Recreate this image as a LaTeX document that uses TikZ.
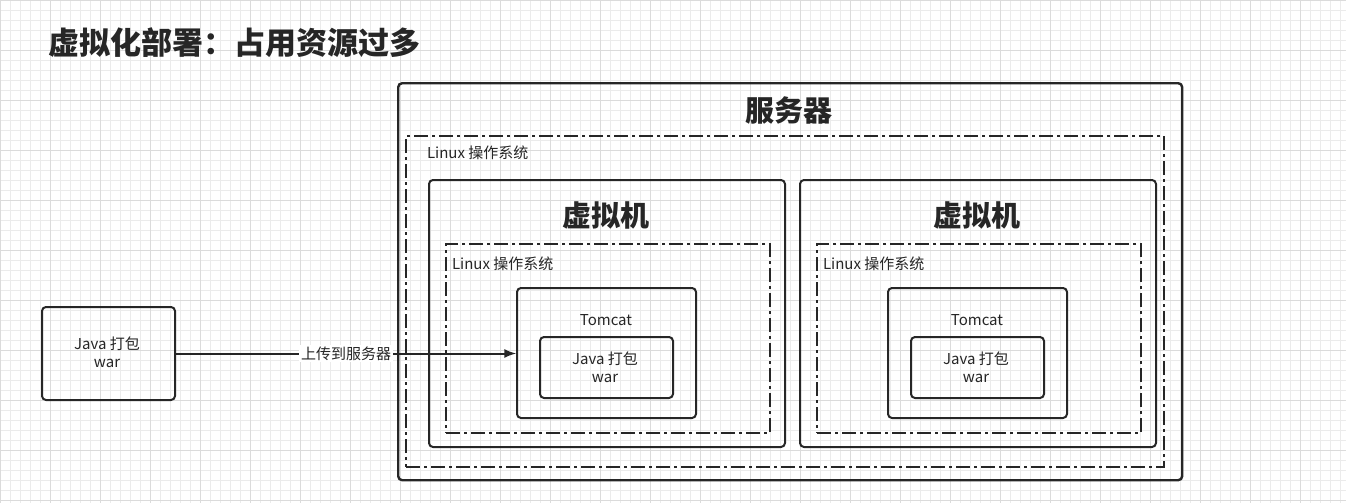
\documentclass[tikz,border=0pt]{standalone}
\usepackage{fontspec}
\setmainfont{Noto Sans CJK SC}
\begin{document}
\begin{tikzpicture}[x=0.5pt,y=-0.5pt,
  box/.style={draw=black!85,line width=1pt,rounded corners=2pt},
  dd/.style={draw=black!85,line width=1pt,dash pattern=on 7pt off 2pt on 1.5pt off 2pt},
  small/.style={font=\fontsize{7.5pt}{9pt}\selectfont,text=black!85},
  big/.style={font=\fontsize{14.5pt}{16pt}\selectfont\bfseries,text=black!85}]
\useasboundingbox (0,0) rectangle (1346,503);
\fill[white] (0,0) rectangle (1346,503);
\foreach \x in {0,10,...,1340}{\draw[black!8,line width=0.4pt] (\x,0) -- (\x,503);}
\foreach \y in {0,10,...,500}{\draw[black!8,line width=0.4pt] (0,\y) -- (1346,\y);}
\foreach \x in {0,50,...,1340}{\draw[black!14,line width=0.4pt] (\x,0) -- (\x,503);}
\foreach \y in {0,50,...,500}{\draw[black!14,line width=0.4pt] (0,\y) -- (1346,\y);}
\node[anchor=west,font=\fontsize{15.5pt}{17pt}\selectfont\bfseries,text=black!85] (title) at (41,43) {虚拟化部署：占用资源过多};
\node[box,minimum width=392pt,minimum height=198.5pt,anchor=north west,line width=1.2pt] (srv) at (397,82) {};
\node[big] (srvl) at (789,110) {服务器};
\node[dd,minimum width=379pt,minimum height=165.5pt,anchor=north west] (os) at (405,135) {};
\node[small,anchor=west] (osl) at (420,153) {Linux 操作系统};
\foreach \i/\dx in {1/0,2/371}{
  \node[box,minimum width=178pt,minimum height=133.5pt,anchor=north west] (vm\i) at (428+\dx,179) {};
  \node[big] (vml\i) at (606+\dx,215) {虚拟机};
  \node[dd,minimum width=162pt,minimum height=94.5pt,anchor=north west] (vos\i) at (445+\dx,243) {};
  \node[small,anchor=west] (vosl\i) at (445+\dx,264) {Linux 操作系统};
  \node[box,minimum width=89.5pt,minimum height=65pt,anchor=north west] (tc\i) at (516+\dx,287) {};
  \node[small] (tcl\i) at (606+\dx,320) {Tomcat};
  \node[box,minimum width=66.5pt,minimum height=30.5pt,anchor=north west] (jv\i) at (539+\dx,336) {};
  \node[small,align=center] (jvl\i) at (605+\dx,367) {Java 打包\\war};
}
\node[box,minimum width=66.5pt,minimum height=46.5pt,anchor=north west] (src) at (41,306) {};
\node[small,align=center] (srcl) at (107,352) {Java 打包\\war};
\draw[line width=1pt,black!85,-latex] (src.east) -- (tc1.west|-src.east)
  node[pos=0.5,fill=white,inner sep=1pt,small] (up) {上传到服务器};
\end{tikzpicture}
\end{document}
